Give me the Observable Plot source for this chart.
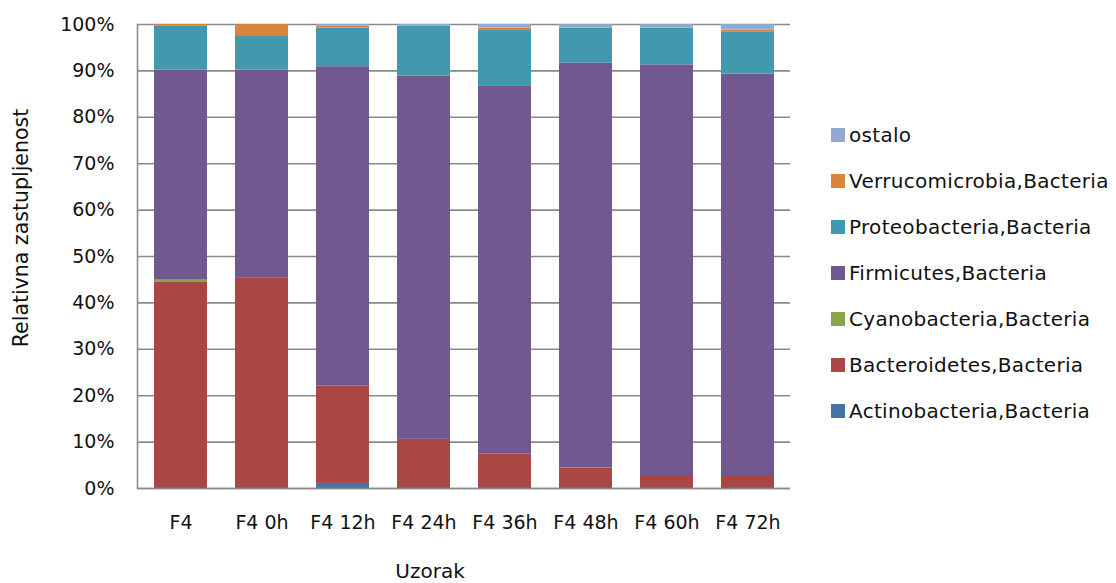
<!DOCTYPE html>
<html>
<head>
<meta charset="utf-8">
<script src="https://cdn.jsdelivr.net/npm/d3@7"></script>
<script src="https://cdn.jsdelivr.net/npm/@observablehq/plot@0.6"></script>
<style>
  html, body { margin: 0; padding: 0; background: #fff; }
  #wrap { position: relative; width: 1116px; height: 583px; font-family: "DejaVu Sans", sans-serif; color: #000; overflow: hidden; }
  #legend { position: absolute; left: 831px; top: 123px; }
  .li { position: absolute; left: 0; white-space: nowrap; font-size: 20px; letter-spacing: 0.3px; line-height: 24px; color: #111; }
  .sw { display: inline-block; width: 14px; height: 14px; vertical-align: 0px; margin-right: 4px; }
  #ylab { position: absolute; left: 21px; top: 228px; transform: translate(-50%, -50%) rotate(-90deg); font-size: 20.5px; white-space: nowrap; color: #111; }
  #xlab { position: absolute; left: 430px; top: 571px; transform: translate(-50%, -50%); font-size: 20px; line-height: 22px; color: #111; }
</style>
</head>
<body>
<div id="wrap">
  <div id="chart"></div>
  <div id="legend"></div>
  <div id="ylab">Relativna zastupljenost</div>
  <div id="xlab">Uzorak</div>
</div>
<script>
const samples = ["F4", "F4 0h", "F4 12h", "F4 24h", "F4 36h", "F4 48h", "F4 60h", "F4 72h"];
const seriesNames = ["Actinobacteria,Bacteria", "Bacteroidetes,Bacteria", "Cyanobacteria,Bacteria", "Firmicutes,Bacteria", "Proteobacteria,Bacteria", "Verrucomicrobia,Bacteria", "ostalo"];
const seriesColors = ["#4572A7", "#AA4643", "#89A54E", "#71588F", "#4198AF", "#DB843D", "#93A9CF"];

const actinobacteria  = [0.0, 0.0, 1.1, 0.0, 0.0, 0.0, 0.0, 0.0];
const bacteroidetes   = [44.4, 45.3, 21.0, 10.6, 7.4, 4.4, 2.8, 2.8];
const cyanobacteria   = [0.5, 0.0, 0.0, 0.0, 0.0, 0.0, 0.0, 0.0];
const firmicutes      = [45.3, 44.9, 68.8, 78.3, 79.4, 87.3, 88.5, 86.5];
const proteobacteria  = [9.4, 7.4, 8.3, 10.7, 11.9, 7.5, 7.9, 9.0];
const verrucomicrobia = [0.4, 2.4, 0.5, 0.0, 0.5, 0.0, 0.0, 0.5];
const ostalo          = [0.0, 0.0, 0.3, 0.4, 0.8, 0.8, 0.8, 1.2];
const yTicks = [0, 10, 20, 30, 40, 50, 60, 70, 80, 90, 100];

const seriesValues = [actinobacteria, bacteroidetes, cyanobacteria, firmicutes, proteobacteria, verrucomicrobia, ostalo];
const data = [];
seriesNames.forEach((name, i) => {
  samples.forEach((s, j) => data.push({sample: s, series: name, value: seriesValues[i][j]}));
});

const plot = Plot.plot({
  width: 1116,
  height: 583,
  marginTop: 24,
  marginBottom: 95,
  marginLeft: 137,
  marginRight: 326,
  style: {fontFamily: '"DejaVu Sans", sans-serif', fontSize: "19px", color: "#111", background: "#fff"},
  x: {domain: samples, paddingInner: 0.35, paddingOuter: 0.16, label: null, tickSize: 0, tickPadding: 27},
  y: {domain: [0, 100], ticks: yTicks, tickFormat: d => d + "%", label: null, tickSize: 0, tickPadding: 23},
  color: {domain: seriesNames, range: seriesColors},
  marks: [
    Plot.gridY(yTicks, {stroke: "#8a8a8a", strokeOpacity: 1, strokeWidth: 1.6}),
    Plot.barY(data, Plot.stackY({order: seriesNames}, {x: "sample", y: "value", fill: "series", z: "series"})),
    Plot.ruleY([0], {stroke: "#8a8a8a", strokeWidth: 1.6}),
    Plot.frame({anchor: "left", stroke: "#8a8a8a", strokeWidth: 1.6})
  ]
});
document.getElementById("chart").appendChild(plot);

const legend = document.getElementById("legend");
const legendOrder = seriesNames.map((n, i) => i).reverse();
legendOrder.forEach((i, k) => {
  const d = document.createElement("div");
  d.className = "li";
  d.style.top = (k * 46) + "px";
  d.innerHTML = `<span class="sw" style="background:${seriesColors[i]}"></span>${seriesNames[i]}`;
  legend.appendChild(d);
});
</script>
</body>
</html>
